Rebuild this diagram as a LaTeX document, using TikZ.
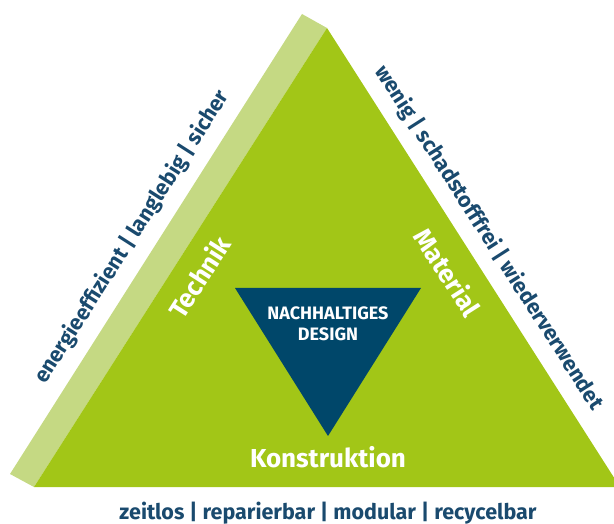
\documentclass[tikz,border=0pt]{standalone}
\usepackage{fontspec}
\setmainfont{Fira Sans}
\definecolor{leaf}{HTML}{A2C617}
\definecolor{leaflight}{HTML}{C5D983}
\definecolor{petrol}{HTML}{00476A}
\definecolor{inkblue}{HTML}{1A4A6E}

\begin{document}
\begin{tikzpicture}[
	x=1pt, y=-1pt,
	side/.style={
		text=inkblue,
		inner sep=0pt,
		font=\bfseries\fontsize{21.5}{21.5}\selectfont
	},
	facet/.style={
		text=white,
		inner sep=0pt,
		font=\bfseries\fontsize{26}{26}\selectfont
	},
	core/.style={
		text=white,
		inner sep=0pt,
		align=center,
		font=\bfseries\fontsize{18}{21}\selectfont
	},
]

\useasboundingbox (0,0) rectangle (614,524);

\coordinate (apex) at (327,28);
\coordinate (left) at (34,487);
\coordinate (right) at (620,487);

\fill[leaflight] (10,474) -- (302,14) -- (apex) -- (left) -- cycle;
\fill[leaf] (apex) -- (right) -- (left) -- cycle;
\fill[petrol] (235,288) -- (421,288) -- (328,436) -- cycle;

\node[core] (core) at (328,324) {NACHHALTIGES\\DESIGN};

\node[facet, rotate=57.4] (technik) at (199,277) {Technik};
\node[facet, rotate=-57.4] (material) at (448,272) {Material};
\node[facet, anchor=base] (konstruktion) at (328,467) {Konstruktion};

\node[side, rotate=57.4] (technik_side) at (132,237) {energieeffizient | langlebig | sicher};
\node[side, rotate=-57.4] (material_side) at (489,238) {wenig | schadstofffrei | wiederverwendet};
\node[side, anchor=base] (konstruktion_side) at (328,519) {zeitlos | reparierbar | modular | recycelbar};

\end{tikzpicture}
\end{document}
